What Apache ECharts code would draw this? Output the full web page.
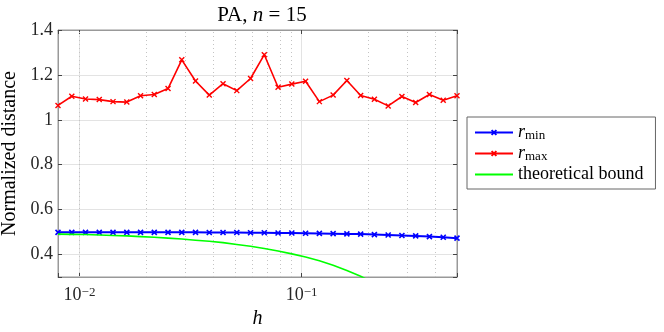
<!DOCTYPE html>
<html>
<head>
<meta charset="utf-8">
<script src="https://cdn.jsdelivr.net/npm/echarts@6/dist/echarts.min.js"></script>
<style>
  html, body { margin: 0; padding: 0; background: #fff; }
  #chart { width: 664px; height: 332px; }
</style>
</head>
<body>
<div id="chart"></div>
<script>
// step sizes h (log spaced, 0.008 .. 0.5)
const hValues = [0.008, 0.00923, 0.01064, 0.01227, 0.01415, 0.01632, 0.01882, 0.02170,
  0.02502, 0.02885, 0.03327, 0.03837, 0.04425, 0.05103, 0.05885, 0.06787, 0.07827,
  0.09026, 0.1041, 0.1201, 0.1385, 0.1597, 0.1842, 0.2124, 0.2450, 0.2825, 0.3258,
  0.3757, 0.4335, 0.5];

const rMin = [0.499, 0.499, 0.499, 0.499, 0.499, 0.499, 0.499, 0.499, 0.499, 0.499,
  0.499, 0.498, 0.498, 0.498, 0.497, 0.497, 0.496, 0.496, 0.495, 0.494,
  0.493, 0.492, 0.491, 0.489, 0.487, 0.485, 0.483, 0.480, 0.477, 0.473];

const rMax = [1.064, 1.105, 1.093, 1.090, 1.081, 1.079, 1.107, 1.113, 1.139, 1.267,
  1.173, 1.110, 1.161, 1.130, 1.184, 1.290, 1.145, 1.159, 1.172, 1.081,
  1.110, 1.175, 1.108, 1.092, 1.062, 1.104, 1.077, 1.113, 1.087, 1.107];

// theoretical bound, read at the same h values (runs below the axis past h ~ 0.19)
const bound = [0.491, 0.490, 0.489, 0.487, 0.485, 0.483, 0.480, 0.477, 0.473, 0.469,
  0.464, 0.459, 0.453, 0.445, 0.437, 0.427, 0.416, 0.403, 0.389, 0.372,
  0.352, 0.329, 0.303, 0.273];

const xMinorGrid = [0.009, 0.02, 0.03, 0.04, 0.05, 0.06, 0.07, 0.08, 0.09, 0.2, 0.3, 0.4];

const FONT = 'Liberation Serif';
const crossSym = 'path://M0,0L10,10M10,0L0,10';
const X_MIN = 0.008, X_MAX = 0.5;

const pairs = (ys) => ys.map((y, i) => [hValues[i], y]);

const chart = echarts.init(document.getElementById('chart'));

const option = {
  animation: false,
  backgroundColor: '#fff',
  title: {
    text: 'PA, {i|n} = 15',
    left: 257,
    top: 0,
    textAlign: 'center',
    textStyle: {
      fontFamily: FONT,
      fontSize: 21,
      fontWeight: 'normal',
      color: '#000',
      rich: {
        i: { fontFamily: FONT, fontSize: 21, fontStyle: 'italic', color: '#000' }
      }
    }
  },
  grid: {
    left: 58,
    right: 207,
    top: 30,
    bottom: 55,
    outerBoundsMode: 'none',
    containLabel: false,
    show: true,
    borderColor: '#999',
    borderWidth: 1
  },
  legend: {
    orient: 'vertical',
    left: 467,
    top: 117,
    itemWidth: 38,
    itemHeight: 6,
    itemGap: 2,
    padding: [6, 12, 5, 7],
    borderColor: '#666',
    borderWidth: 1,
    borderRadius: 0,
    data: ['rmin', 'rmax', { name: 'theoretical bound', itemStyle: { opacity: 0 } }],
    formatter: function (name) {
      if (name === 'rmin') return '{i|r}{s|min}';
      if (name === 'rmax') return '{i|r}{s|max}';
      return name;
    },
    textStyle: {
      fontFamily: FONT,
      fontSize: 18,
      lineHeight: 19,
      color: '#000',
      rich: {
        i: { fontFamily: FONT, fontSize: 18, lineHeight: 19, fontStyle: 'italic' },
        s: { fontFamily: FONT, fontSize: 13, lineHeight: 19, verticalAlign: 'bottom', padding: [5, 0, 0, 0] }
      }
    }
  },
  xAxis: [{
    type: 'log',
    logBase: 10,
    min: X_MIN,
    max: X_MAX,
    name: 'h',
    nameLocation: 'middle',
    nameGap: 28,
    nameTextStyle: { fontFamily: FONT, fontSize: 20, fontStyle: 'italic', color: '#000' },
    axisLine: { show: true, lineStyle: { color: '#999' } },
    axisTick: { show: true, inside: true, length: 4, lineStyle: { color: '#444' } },
    axisLabel: {
      color: '#262626',
      margin: 9,
      formatter: function (v) {
        const l = Math.log10(v);
        const e = Math.round(l);
        if (Math.abs(l - e) > 1e-6) return '';
        return '{b|10}{s|\u2212' + (-e) + '}';
      },
      rich: {
        b: { fontFamily: FONT, fontSize: 18, color: '#262626' },
        s: { fontFamily: FONT, fontSize: 13, color: '#262626', verticalAlign: 'top' }
      }
    },
    splitLine: { show: true, lineStyle: { color: '#e3e3e3', width: 1 } }
  }, {
    type: 'log',
    logBase: 10,
    min: X_MIN,
    max: X_MAX,
    position: 'top',
    axisLine: { show: true, lineStyle: { color: '#999' } },
    axisTick: { show: true, inside: true, length: 4, lineStyle: { color: '#444' } },
    axisLabel: { show: false },
    splitLine: { show: false }
  }],
  yAxis: [{
    type: 'value',
    min: 0.3,
    max: 1.4,
    splitNumber: 5,
    name: 'Normalized distance',
    nameLocation: 'middle',
    nameGap: 36,
    nameTextStyle: { fontFamily: FONT, fontSize: 20, color: '#000' },
    axisLine: { show: true, lineStyle: { color: '#999' } },
    axisTick: { show: true, inside: true, length: 4, lineStyle: { color: '#444' } },
    axisLabel: {
      fontFamily: FONT,
      fontSize: 18,
      color: '#262626',
      margin: 5,
      formatter: function (v) {
        if (Math.abs(v - 0.3) < 1e-9) return '';
        return String(+v.toFixed(1));
      }
    },
    splitLine: { show: true, lineStyle: { color: '#e3e3e3', width: 1 } }
  }, {
    type: 'value',
    min: 0.3,
    max: 1.4,
    splitNumber: 5,
    position: 'right',
    axisLine: { show: true, lineStyle: { color: '#999' } },
    axisTick: { show: true, inside: true, length: 4, lineStyle: { color: '#444' } },
    axisLabel: { show: false },
    splitLine: { show: false }
  }],
  series: [{
    name: 'rmin',
    type: 'line',
    data: pairs(rMin),
    symbol: crossSym,
    symbolSize: 5,
    showAllSymbol: true,
    clip: false,
    lineStyle: { color: '#0000ff', width: 2 },
    itemStyle: { color: '#0000ff', borderColor: '#0000ff', borderWidth: 1.6 },
    z: 3
  }, {
    name: 'rmax',
    type: 'line',
    data: pairs(rMax),
    symbol: crossSym,
    symbolSize: 5,
    showAllSymbol: true,
    clip: false,
    lineStyle: { color: '#ff0000', width: 1.6 },
    itemStyle: { color: '#ff0000', borderColor: '#ff0000', borderWidth: 1.4 },
    z: 3
  }, {
    name: 'theoretical bound',
    type: 'line',
    data: pairs(bound),
    symbol: 'none',
    clip: true,
    lineStyle: { color: '#00ff00', width: 1.6 },
    itemStyle: { color: '#00ff00' },
    z: 4,
    markLine: {
      silent: true,
      symbol: 'none',
      label: { show: false },
      lineStyle: { color: '#c4c4c4', type: [1, 3], width: 1 },
      z: 1,
      data: xMinorGrid.map(v => ({ xAxis: v }))
    }
  }]
};

chart.setOption(option);
</script>
</body>
</html>
